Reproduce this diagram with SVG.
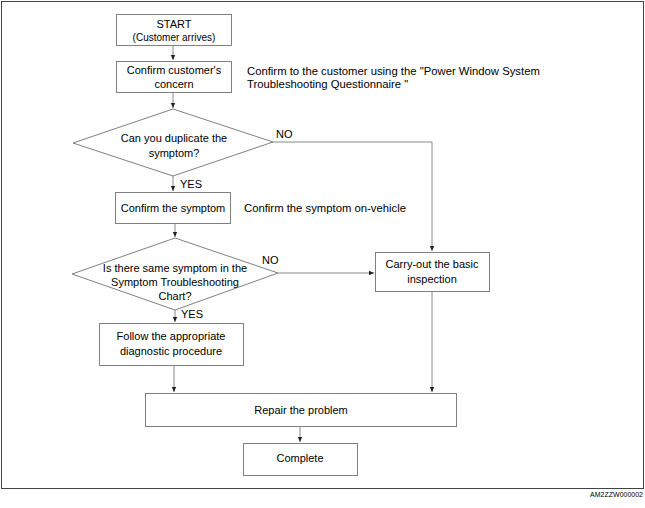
<svg xmlns="http://www.w3.org/2000/svg" width="645" height="508" viewBox="0 0 645 508">
<defs>
<marker id="ah" markerWidth="6" markerHeight="6" refX="5" refY="3" orient="auto" markerUnits="userSpaceOnUse">
<path d="M0,0.8 L5,3 L0,5.2 Z" fill="#222"/>
</marker>
</defs>
<style>
.box{fill:#fff;stroke:#808080;stroke-width:1}
.frame{fill:none;stroke:#444;stroke-width:1}
.con{fill:none;stroke:#888;stroke-width:1}
text{font-family:"Liberation Sans",Arial,sans-serif;font-size:11px;fill:#000}
.c{text-anchor:middle}
.s{font-size:10px}
.n{font-size:11.3px}
.id{font-size:7px;text-anchor:end}
</style>
<rect width="645" height="508" fill="#fff"/>
<rect class="frame" x="1.5" y="1.5" width="642" height="487"/>

<g id="connectors">
<line class="con" x1="173" y1="45" x2="173" y2="60" marker-end="url(#ah)"/>
<line class="con" x1="173" y1="92" x2="173" y2="108" marker-end="url(#ah)"/>
<line class="con" x1="173" y1="176" x2="173" y2="191" marker-end="url(#ah)"/>
<polyline class="con" points="273,142 432,142 432,251" marker-end="url(#ah)"/>
<line class="con" x1="175" y1="223" x2="175" y2="237" marker-end="url(#ah)"/>
<line class="con" x1="278" y1="273" x2="374" y2="273" marker-end="url(#ah)"/>
<line class="con" x1="175" y1="310" x2="175" y2="322" marker-end="url(#ah)"/>
<line class="con" x1="174" y1="365" x2="174" y2="392" marker-end="url(#ah)"/>
<line class="con" x1="432" y1="292" x2="432" y2="392" marker-end="url(#ah)"/>
<line class="con" x1="300" y1="426" x2="300" y2="442" marker-end="url(#ah)"/>
<text x="276" y="138">NO</text>
<text x="180" y="188">YES</text>
<text x="262" y="264">NO</text>
<text x="181" y="318">YES</text>
</g>

<g id="start">
<rect class="box" x="116.5" y="14.5" width="115" height="31"/>
<text class="c" x="174" y="28">START</text>
<text class="c s" x="174" y="41">(Customer arrives)</text>
</g>

<g id="confirm-concern">
<rect class="box" x="116.5" y="61.5" width="115" height="31"/>
<text class="c" x="174" y="74">Confirm customer's</text>
<text class="c" x="174" y="88">concern</text>
</g>

<g id="note-questionnaire">
<text class="n" x="247" y="75">Confirm to the customer using the "Power Window System</text>
<text class="n" x="247" y="88">Troubleshooting Questionnaire "</text>
</g>

<g id="duplicate">
<polygon class="box" points="173,109 273,142 173,176 73,143"/>
<text class="c" x="174" y="142">Can you duplicate the</text>
<text class="c" x="174" y="157">symptom?</text>
</g>

<g id="confirm-symptom">
<rect class="box" x="115.5" y="192.5" width="115" height="31"/>
<text class="c" x="173" y="212">Confirm the symptom</text>
</g>

<g id="note-vehicle">
<text class="n" x="244" y="212">Confirm the symptom on-vehicle</text>
</g>

<g id="same-symptom">
<polygon class="box" points="175,238 278,273 175,310 72,274"/>
<text class="c" x="175" y="272">Is there same symptom in the</text>
<text class="c" x="175" y="286">Symptom Troubleshooting</text>
<text class="c" x="175" y="300">Chart?</text>
</g>

<g id="follow">
<rect class="box" x="99.5" y="323.5" width="144" height="42"/>
<text class="c" x="171" y="340">Follow the appropriate</text>
<text class="c" x="171" y="355">diagnostic procedure</text>
</g>

<g id="basic-inspection">
<rect class="box" x="375.5" y="252.5" width="114" height="39"/>
<text class="c" x="432" y="268">Carry-out the basic</text>
<text class="c" x="432" y="283">inspection</text>
</g>

<g id="repair">
<rect class="box" x="145.5" y="393.5" width="311" height="33"/>
<text class="c" x="301" y="414">Repair the problem</text>
</g>

<g id="complete">
<rect class="box" x="243.5" y="443.5" width="114" height="32"/>
<text class="c" x="300" y="462">Complete</text>
</g>

<text class="id" x="643" y="497">AM2ZZW000002</text>
</svg>
